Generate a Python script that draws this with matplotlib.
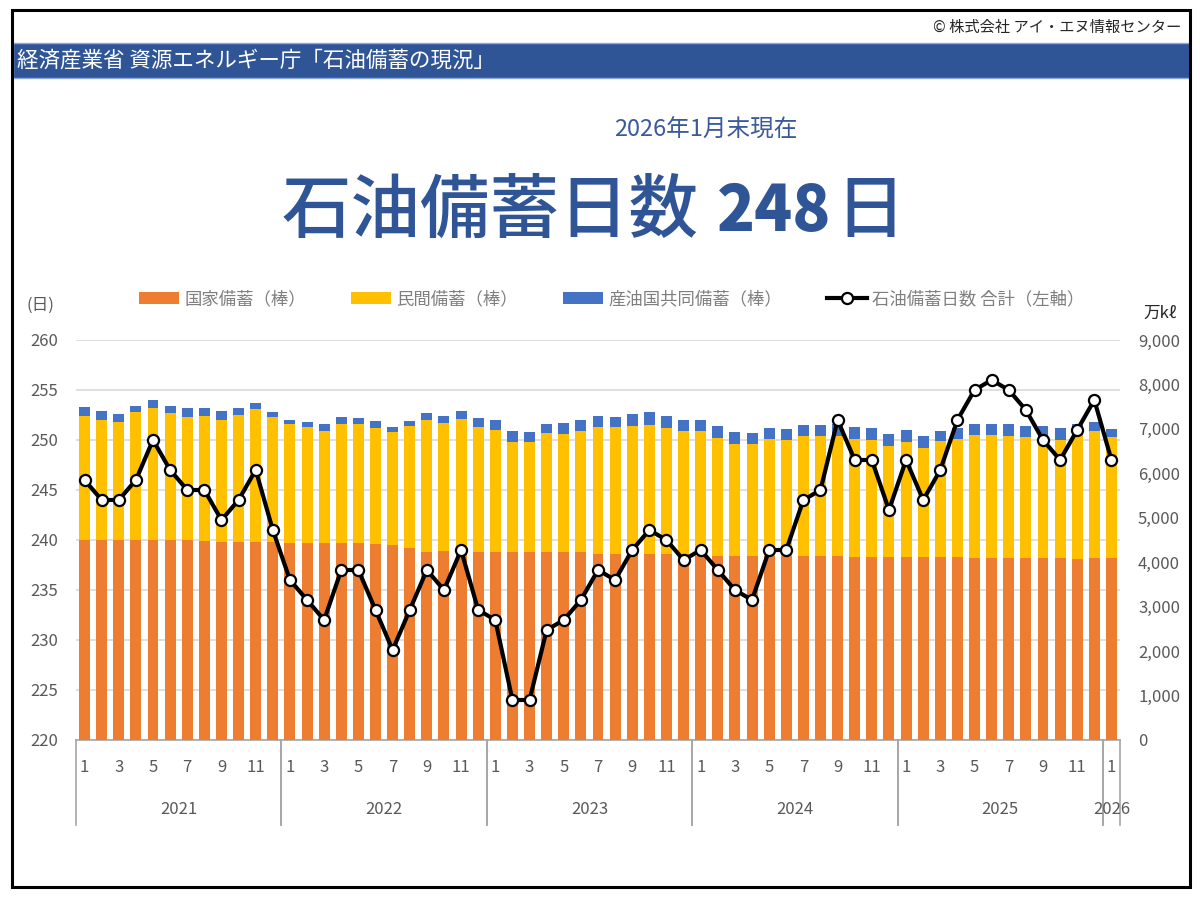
import matplotlib
matplotlib.use("Agg")
import matplotlib.pyplot as plt
from matplotlib.patches import Rectangle, Patch
from matplotlib.lines import Line2D
import matplotlib.ticker as mticker

plt.rcParams['font.family'] = ['Noto Sans CJK JP', 'DejaVu Sans']

# ---------------- data ----------------
years = [2021, 2022, 2023, 2024, 2025, 2026]
months = [m for y in years[:-1] for m in range(1, 13)] + [1]
month_years = [y for y in years[:-1] for _ in range(12)] + [2026]

# 石油備蓄日数 合計 (日)
days = [246, 244, 244, 246, 250, 247, 245, 245, 242, 244, 247, 241,
        236, 234, 232, 237, 237, 233, 229, 233, 237, 235, 239, 233,
        232, 224, 224, 231, 232, 234, 237, 236, 239, 241, 240, 238,
        239, 237, 235, 234, 239, 239, 244, 245, 252, 248, 248, 243,
        248, 244, 247, 252, 255, 256, 255, 253, 250, 248, 251, 254,
        248]

# 国家備蓄 (万kl)
national = [4510, 4510, 4510, 4510, 4510, 4510, 4510, 4480, 4450, 4450, 4450, 4450,
            4440, 4440, 4440, 4440, 4440, 4420, 4390, 4330, 4240, 4250, 4250, 4240,
            4240, 4240, 4240, 4240, 4240, 4240, 4190, 4190, 4190, 4190, 4190, 4190,
            4150, 4150, 4150, 4150, 4150, 4150, 4130, 4130, 4130, 4120, 4120, 4120,
            4120, 4120, 4120, 4120, 4100, 4100, 4100, 4100, 4100, 4100, 4080, 4100,
            4100]

# 民間備蓄 (万kl)
private = [2780, 2690, 2650, 2860, 2970, 2840, 2760, 2820, 2760, 2870, 2990, 2820,
           2670, 2610, 2510, 2680, 2680, 2590, 2530, 2740, 2970, 2880, 2980, 2800,
           2740, 2470, 2470, 2670, 2640, 2710, 2850, 2850, 2880, 2900, 2840, 2760,
           2800, 2640, 2520, 2520, 2620, 2590, 2700, 2700, 2700, 2650, 2630, 2500,
           2590, 2460, 2610, 2650, 2760, 2760, 2750, 2720, 2710, 2650, 2780, 2850,
           2710]

# 産油国共同備蓄 (万kl)
joint = [210, 210, 170, 140, 160, 160, 190, 180, 200, 160, 140, 120,
         100, 110, 160, 150, 130, 160, 120, 110, 150, 170, 170, 200,
         220, 240, 230, 210, 250, 260, 260, 220, 260, 280, 260, 250,
         260, 270, 250, 230, 260, 260, 260, 260, 270, 280, 260, 270,
         260, 260, 230, 260, 260, 260, 270, 250, 260, 260, 250, 200,
         180]

series_labels = ['国家備蓄（棒）', '民間備蓄（棒）', '産油国共同備蓄（棒）', '石油備蓄日数 合計（左軸）']
left_ticks = [220, 225, 230, 235, 240, 245, 250, 255, 260]
right_ticks = [0, 1000, 2000, 3000, 4000, 5000, 6000, 7000, 8000, 9000]

title_parts = ['石油備蓄日数', '248', '日']
subtitle = '2026年1月末現在'
banner_text = '経済産業省 資源エネルギー庁「石油備蓄の現況」'
copyright_text = '© 株式会社 アイ・エヌ情報センター'

# ---------------- colours ----------------
C_NAT = '#ED7D31'
C_PRI = '#FFC000'
C_JNT = '#4472C4'
C_TXT = '#595959'
C_BLUE = '#2F5597'
C_GRID = '#D9D9D9'

# ---------------- figure ----------------
W, H = 1200, 900
fig = plt.figure(figsize=(12, 9), dpi=100)
fig.patch.set_facecolor('white')

def fx(px):
    return px / W

def fy(py):
    return 1 - py / H

# outer frame
fig.patches.append(Rectangle((fx(12), fy(887)), fx(1190) - fx(12), fy(10) - fy(887),
                             transform=fig.transFigure, fill=False,
                             edgecolor='black', lw=2.2, zorder=10))
# banner
fig.patches.append(Rectangle((fx(13), fy(78)), fx(1190) - fx(13), fy(43) - fy(78),
                             transform=fig.transFigure, facecolor=C_BLUE,
                             edgecolor='#8FAADC', lw=1, zorder=5))
fig.text(fx(17), fy(60.5), banner_text, color='white', fontsize=15.5,
         ha='left', va='center', zorder=6)
fig.text(fx(1181), fy(27), copyright_text, color='#262626', fontsize=11,
         ha='right', va='center')

fig.text(fx(706), fy(130), subtitle, color='#3A5A9B', fontsize=17,
         ha='center', va='center')

# big title: CJK in medium weight, number in heavy weight
TY = fy(212)
t1 = fig.text(fx(282), TY, title_parts[0], color=C_BLUE, fontsize=50,
              fontweight='medium', ha='left', va='center')
t2 = fig.text(0, TY, title_parts[1], color=C_BLUE, fontsize=45, fontweight='heavy',
              ha='left', va='center')
t3 = fig.text(0, TY, title_parts[2], color=C_BLUE, fontsize=50, fontweight='medium',
              ha='left', va='center')
fig.canvas.draw()
r = fig.canvas.get_renderer()
bb1 = t1.get_window_extent(r)
t2.set_position(((bb1.x1 + 18) / W, TY))
fig.canvas.draw()
bb2 = t2.get_window_extent(r)
t3.set_position(((bb2.x1 + 4) / W, TY))

# ---------------- axes ----------------
rect = [fx(76), fy(740), fx(1120) - fx(76), fy(340) - fy(740)]
ax_left = fig.add_axes(rect, zorder=1)
ax_bar = fig.add_axes(rect, zorder=2)
ax_line = fig.add_axes(rect, zorder=3)

n = len(days)
x = list(range(n))
xlim = (-0.5, n - 0.5)

# left axis: grid + labels
ax_left.set_xlim(*xlim)
ax_left.set_ylim(left_ticks[0], left_ticks[-1])
ax_left.set_yticks(left_ticks)
ax_left.yaxis.grid(True, color=C_GRID, lw=1.2)
ax_left.tick_params(axis='y', length=0, pad=13, labelsize=12, labelcolor=C_TXT)
ax_left.set_xticks([])
for s in ['top', 'right', 'left']:
    ax_left.spines[s].set_visible(False)
ax_left.spines['bottom'].set_color('#A6A6A6')
ax_left.spines['bottom'].set_linewidth(1.2)

# bars
ax_bar.patch.set_visible(False)
ax_bar.set_xlim(*xlim)
ax_bar.set_ylim(right_ticks[0], right_ticks[-1])
bw = 0.64
base2 = [a + b for a, b in zip(national, private)]
ax_bar.bar(x, national, width=bw, color=C_NAT, edgecolor='none')
ax_bar.bar(x, private, width=bw, bottom=national, color=C_PRI, edgecolor='none')
ax_bar.bar(x, joint, width=bw, bottom=base2, color=C_JNT, edgecolor='none')
ax_bar.yaxis.tick_right()
ax_bar.set_yticks(right_ticks)
ax_bar.yaxis.set_major_formatter(mticker.FuncFormatter(lambda v, p: f'{int(v):,}'))
ax_bar.tick_params(axis='y', length=0, pad=13, labelsize=12, labelcolor=C_TXT)
ax_bar.set_xticks([])
for s in ax_bar.spines.values():
    s.set_visible(False)

# line
ax_line.patch.set_visible(False)
ax_line.set_xlim(*xlim)
ax_line.set_ylim(left_ticks[0], left_ticks[-1])
ax_line.plot(x, days, color='black', lw=3, marker='o', markersize=8,
             markerfacecolor='white', markeredgecolor='black', markeredgewidth=1.6,
             clip_on=False)
ax_line.set_xticks([])
ax_line.set_yticks([])
for s in ax_line.spines.values():
    s.set_visible(False)

# x-axis: months, years, dividers
trans = ax_left.get_xaxis_transform()
for i, m in enumerate(months):
    if m % 2 == 1:
        ax_left.text(i, -28 / 400, str(m), transform=trans, ha='center', va='center',
                     fontsize=12, color=C_TXT)
starts = {}
for i, y in enumerate(month_years):
    starts.setdefault(y, []).append(i)
for y in years:
    idx = starts[y]
    lo, hi = idx[0] - 0.5, idx[-1] + 0.5
    ax_left.text((lo + hi) / 2, -70 / 400, str(y), transform=trans, ha='center',
                 va='center', fontsize=12, color=C_TXT)
    for b in (lo, hi):
        ax_left.plot([b, b], [0, -85 / 400], transform=trans, color='#A6A6A6',
                     lw=1.2, clip_on=False)

# axis unit labels
fig.text(fx(40), fy(305), '(日)', color=C_TXT, fontsize=12, ha='center', va='center')
fig.text(fx(1160), fy(313), '万kℓ', color='#262626', fontsize=12, ha='center',
         va='center', family=['Noto Sans CJK JP', 'DejaVu Sans'])

# legend
handles = [Patch(facecolor=C_NAT), Patch(facecolor=C_PRI), Patch(facecolor=C_JNT),
           Line2D([], [], color='black', lw=3, marker='o', markersize=8,
                  markerfacecolor='white', markeredgecolor='black', markeredgewidth=1.6)]
leg = fig.legend(handles, series_labels, loc='center', ncol=4,
                 bbox_to_anchor=(fx(612), fy(299)), frameon=False, fontsize=12.5,
                 handlelength=2.3, handleheight=0.65, handletextpad=0.3,
                 columnspacing=2.6, labelcolor='#7F7F7F')

fig.savefig('out.png', dpi=100)
